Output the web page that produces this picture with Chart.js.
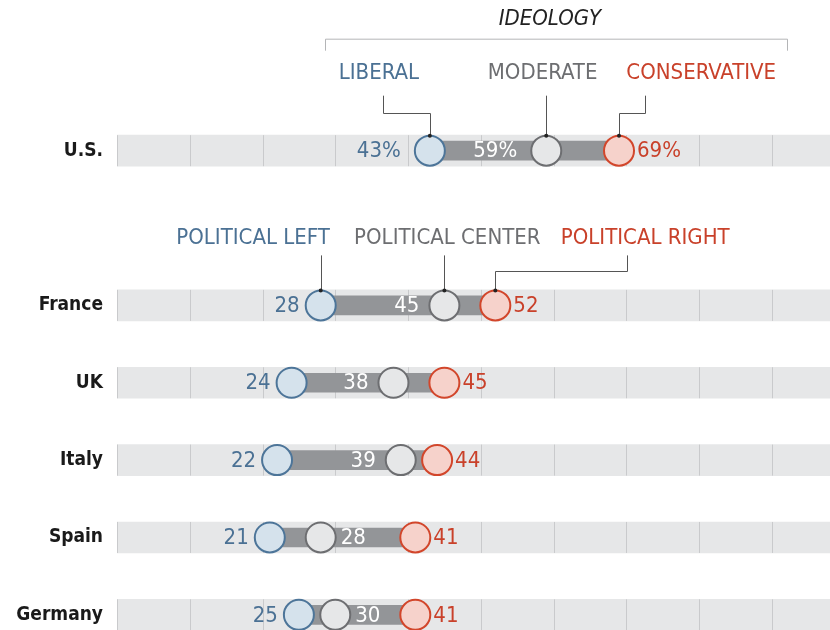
<!DOCTYPE html>
<html>
<head>
<meta charset="utf-8">
<script src="https://cdn.jsdelivr.net/npm/chart.js@4.4.1/dist/chart.umd.min.js"></script>
<style>
    html, body { margin: 0; padding: 0; background: #fff; overflow: hidden; }
    #wrap { width: 830px; height: 630px; overflow: hidden; }
</style>
</head>
<body>
<div id="wrap"><canvas id="myChart" width="830" height="680"></canvas></div>
<script>
// Data
const countries = ['U.S.', 'France', 'UK', 'Italy', 'Spain', 'Germany'];
const leftValues = [43, 28, 24, 22, 21, 25];
const centerValues = [59, 45, 38, 39, 28, 30];
const rightValues = [69, 52, 45, 44, 41, 41];
const suffixes = ['%', '', '', '', '', ''];
const rows = ['U.S.', '', 'France', 'UK', 'Italy', 'Spain', 'Germany']; // empty row = gap
const gridValues = [0, 10, 20, 30, 40, 50, 60, 70, 80, 90];
const xMax = 98;

// header labels (positions in % units on the x scale)
const usLabels = ['LIBERAL', 'MODERATE', 'CONSERVATIVE'];
const usLabelAt = [36, 58.5, 80.3];
const usBendAt = [36.5, null, 72.6];
const euLabels = ['POLITICAL LEFT', 'POLITICAL CENTER', 'POLITICAL RIGHT'];
const euLabelAt = [18.7, 45.4, 72.6];
const euBendAt = [null, null, 70.1];

const font = "'DejaVu Sans Condensed', 'Liberation Sans Narrow', sans-serif";
const blue = { stroke: '#4d7599', fill: '#d5e2ec', text: '#4b7194' };
const gray = { stroke: '#6d6e71', fill: '#e6e7e8', text: '#6d6e71' };
const red = { stroke: '#d2462b', fill: '#f6d2cb', text: '#c9412a' };
const seriesColors = [blue, gray, red];

const points = (vals) => vals.map((v, i) => ({ x: v, y: countries[i] }));

// thin grid lines drawn only inside the light bands
const gridPlugin = {
    id: 'bandGrid',
    afterDatasetDraw(chart, args) {
        if (args.index !== 0) return;
        const ctx = chart.ctx;
        const x = chart.scales.x;
        ctx.save();
        ctx.strokeStyle = '#c9cacc';
        ctx.lineWidth = 1;
        chart.getDatasetMeta(0).data.forEach(bar => {
            const top = bar.y - bar.height / 2;
            const bottom = bar.y + bar.height / 2;
            gridValues.forEach(v => {
                const px = Math.round(x.getPixelForValue(v)) + 0.5;
                ctx.beginPath();
                ctx.moveTo(px, top);
                ctx.lineTo(px, bottom);
                ctx.stroke();
            });
        });
        ctx.restore();
    }
};

function drawLeader(ctx, x, y, g, text, color, labelAt, bendAt, target) {
    const yc = y.getPixelForValue(rows.indexOf(g.row));
    const tx = x.getPixelForValue(labelAt);
    const px = x.getPixelForValue(target);
    ctx.fillStyle = color;
    ctx.font = '22px ' + font;
    ctx.textAlign = 'center';
    ctx.textBaseline = 'middle';
    ctx.fillText(text, tx, yc + g.textDy);

    ctx.strokeStyle = '#555';
    ctx.lineWidth = 1;
    ctx.beginPath();
    const lx = Math.round(px) + 0.5;
    if (bendAt === null) {
        ctx.moveTo(lx, yc + g.lineDy);
    } else {
        const bx = Math.round(x.getPixelForValue(bendAt)) + 0.5;
        const by = Math.round(yc + g.bendDy) + 0.5;
        ctx.moveTo(bx, yc + g.lineDy);
        ctx.lineTo(bx, by);
        ctx.lineTo(lx, by);
    }
    ctx.lineTo(lx, yc - 15);
    ctx.stroke();
    ctx.fillStyle = '#222';
    ctx.beginPath();
    ctx.arc(px, yc - 15, 2, 0, Math.PI * 2);
    ctx.fill();
}

const labelPlugin = {
    id: 'labels',
    afterDraw(chart) {
        const ctx = chart.ctx;
        const x = chart.scales.x;
        const y = chart.scales.y;
        ctx.save();

        // values next to the circles
        ctx.font = '22px ' + font;
        ctx.textBaseline = 'middle';
        countries.forEach((c, i) => {
            const yc = y.getPixelForValue(rows.indexOf(c)) + 1;
            const s = suffixes[i];
            const gap = s ? 8 : 0;
            ctx.fillStyle = blue.text;
            ctx.textAlign = 'right';
            ctx.fillText(leftValues[i] + s, x.getPixelForValue(leftValues[i]) - 21 - gap, yc);
            ctx.fillStyle = red.text;
            ctx.textAlign = 'left';
            ctx.fillText(rightValues[i] + s, x.getPixelForValue(rightValues[i]) + 18, yc);
            ctx.fillStyle = '#fff';
            const cx = x.getPixelForValue(centerValues[i]);
            if (centerValues[i] - leftValues[i] > 10) {
                ctx.textAlign = 'right';
                ctx.fillText(centerValues[i] + s, cx - 25 - gap / 2, yc);
            } else {
                ctx.textAlign = 'left';
                ctx.fillText(centerValues[i] + s, cx + 20, yc);
            }
        });

        // header over the U.S. row
        const usY = y.getPixelForValue(0);
        ctx.fillStyle = '#222';
        ctx.font = 'italic 22px ' + font;
        ctx.textAlign = 'center';
        ctx.fillText('IDEOLOGY', x.getPixelForValue(59.5), usY - 131);
        const b1 = Math.round(x.getPixelForValue(28.6)) + 0.5;
        const b2 = Math.round(x.getPixelForValue(92.1)) + 0.5;
        ctx.strokeStyle = '#b4b5b7';
        ctx.lineWidth = 1;
        ctx.beginPath();
        ctx.moveTo(b1, usY - 100);
        ctx.lineTo(b1, usY - 111.5);
        ctx.lineTo(b2, usY - 111.5);
        ctx.lineTo(b2, usY - 100);
        ctx.stroke();

        const usGroup = { row: 'U.S.', textDy: -77, lineDy: -55, bendDy: -38 };
        const euGroup = { row: 'France', textDy: -67, lineDy: -50, bendDy: -34 };
        const usTargets = [leftValues[0], centerValues[0], rightValues[0]];
        const euTargets = [leftValues[1], centerValues[1], rightValues[1]];
        usLabels.forEach((t, k) => drawLeader(ctx, x, y, usGroup, t, seriesColors[k].text,
            usLabelAt[k], usBendAt[k], usTargets[k]));
        euLabels.forEach((t, k) => drawLeader(ctx, x, y, euGroup, t, seriesColors[k].text,
            euLabelAt[k], euBendAt[k], euTargets[k]));

        ctx.restore();
    }
};

function circleSet(vals, col) {
    return {
        type: 'line',
        indexAxis: 'y',
        data: points(vals),
        showLine: false,
        pointRadius: 15,
        pointHoverRadius: 15,
        pointBorderWidth: 2,
        pointBackgroundColor: col.fill,
        pointBorderColor: col.stroke,
        clip: false,
        order: 1
    };
}

const ctx = document.getElementById('myChart').getContext('2d');
const myChart = new Chart(ctx, {
    type: 'bar',
    data: {
        labels: rows,
        datasets: [
            {
                data: countries.map(c => ({ x: [0, xMax], y: c })),
                backgroundColor: '#e6e7e8',
                barThickness: 31,
                grouped: false,
                order: 4
            },
            {
                data: countries.map((c, i) => ({ x: [leftValues[i], rightValues[i]], y: c })),
                backgroundColor: '#939598',
                barThickness: 19,
                grouped: false,
                order: 3
            },
            circleSet(leftValues, blue),
            circleSet(centerValues, gray),
            circleSet(rightValues, red)
        ]
    },
    options: {
        indexAxis: 'y',
        responsive: false,
        animation: false,
        devicePixelRatio: 1,
        events: [],
        layout: {
            autoPadding: false,
            padding: { top: 112, bottom: 26.5, left: 0, right: 0 }
        },
        plugins: {
            legend: { display: false },
            tooltip: { enabled: false }
        },
        scales: {
            x: {
                type: 'linear',
                min: 0,
                max: xMax,
                display: false
            },
            y: {
                type: 'category',
                grid: { display: false },
                border: { display: false },
                ticks: {
                    color: '#1a1a1a',
                    padding: 6,
                    font: { family: font, size: 19, weight: 'bold' }
                },
                afterFit: (scale) => { scale.width = 117; }
            }
        }
    },
    plugins: [gridPlugin, labelPlugin]
});
</script>
</body>
</html>
